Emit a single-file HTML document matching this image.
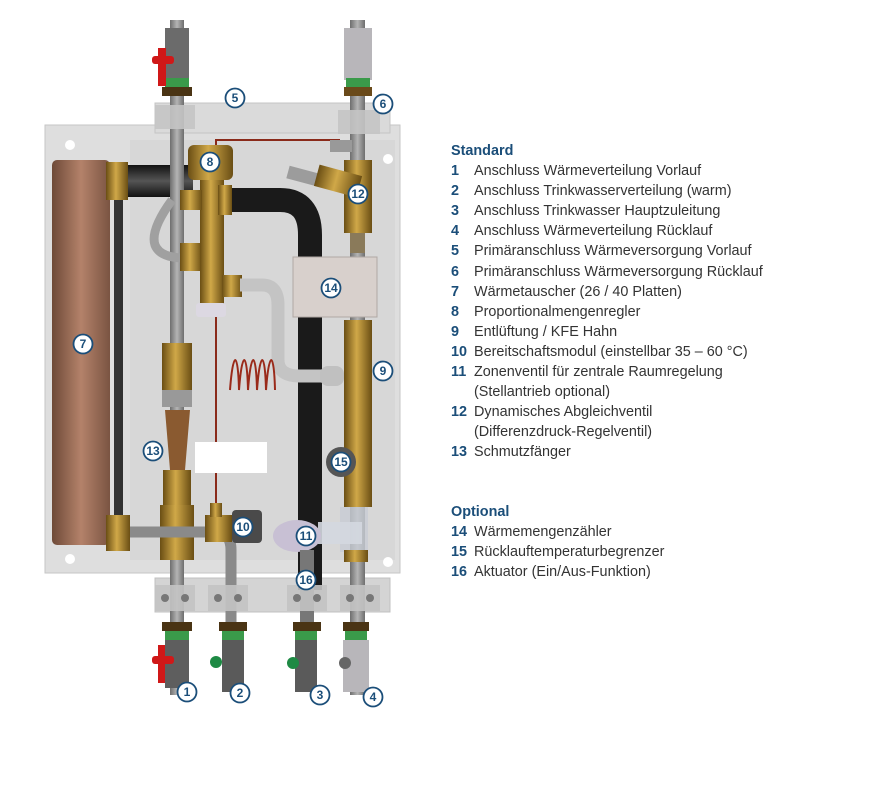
<!DOCTYPE html>
<html><head><meta charset="utf-8"><style>
html,body{margin:0;padding:0;background:#fff;width:872px;height:794px;overflow:hidden}
svg{position:absolute;left:0;top:0}
.lg{position:absolute;left:451px;font-family:"Liberation Sans",sans-serif;font-size:14.4px;color:#333;white-space:nowrap;line-height:20.1px}
.lg b{color:#1b4e79;display:inline-block;width:23px}
.h{font-weight:bold;color:#1b4e79}
</style></head><body>
<svg width="440" height="794" viewBox="0 0 440 794">
<defs>
<linearGradient id="hx" x1="0" x2="1"><stop offset="0" stop-color="#6e4a38"/><stop offset=".5" stop-color="#b4826a"/><stop offset="1" stop-color="#7a5442"/></linearGradient>
<linearGradient id="br" x1="0" x2="1"><stop offset="0" stop-color="#6a4e14"/><stop offset=".45" stop-color="#d0a848"/><stop offset="1" stop-color="#6a4e14"/></linearGradient>
<linearGradient id="pg" x1="0" x2="1"><stop offset="0" stop-color="#6e6e6e"/><stop offset=".5" stop-color="#b4b4b4"/><stop offset="1" stop-color="#6e6e6e"/></linearGradient>
<linearGradient id="bk" x1="0" x2="0" y1="0" y2="1"><stop offset="0" stop-color="#111"/><stop offset=".5" stop-color="#555"/><stop offset="1" stop-color="#111"/></linearGradient>
</defs>
<!-- panels -->
<rect x="45" y="125" width="355" height="448" fill="#dedede" stroke="#c6c6c6"/>
<rect x="155" y="103" width="235" height="30" fill="#dadada" stroke="#c4c4c4"/>
<rect x="130" y="140" width="265" height="420" fill="#cfcfcf" opacity=".45"/>
<rect x="155" y="578" width="235" height="34" fill="#d4d4d4" stroke="#c0c0c0"/>
<g fill="#fff"><circle cx="70" cy="145" r="5"/><circle cx="388" cy="159" r="5"/><circle cx="70" cy="559" r="5"/><circle cx="388" cy="562" r="5"/></g>
<!-- heat exchanger -->
<rect x="52" y="160" width="58" height="385" rx="5" fill="url(#hx)"/>
<rect x="114" y="185" width="9" height="340" fill="#333"/>
<!-- top black pipe -->
<rect x="108" y="165" width="85" height="32" fill="url(#bk)"/>
<rect x="106" y="162" width="22" height="38" fill="url(#br)"/>
<!-- black bend -->
<path d="M222 200 H280 Q310 200 310 235 V590" fill="none" stroke="#1a1a1a" stroke-width="24"/>
<!-- pipe 1 -->
<rect x="170" y="20" width="14" height="675" fill="url(#pg)"/>
<path d="M172 200 Q150 230 155 245 Q160 258 185 258" fill="none" stroke="#a0a0a0" stroke-width="9"/>
<rect x="165" y="28" width="24" height="52" fill="#6b6b6b"/><rect x="165" y="78" width="24" height="9" fill="#3a9a4a"/>
<rect x="162" y="87" width="30" height="9" fill="#4a3414"/>
<rect x="158" y="48" width="8" height="38" fill="#d01818"/><rect x="152" y="56" width="22" height="8" rx="3" fill="#d01818"/>
<rect x="180" y="243" width="22" height="28" fill="url(#br)"/>
<rect x="162" y="343" width="30" height="47" fill="url(#br)"/>
<rect x="162" y="390" width="30" height="17" fill="#999"/>
<path d="M165 410 L190 410 L185 470 L170 470 Z" fill="#8a5a30"/>
<rect x="163" y="470" width="28" height="35" fill="url(#br)"/>
<rect x="160" y="505" width="34" height="55" fill="url(#br)"/>
<rect x="162" y="622" width="30" height="9" fill="#4a3414"/>
<rect x="165" y="631" width="24" height="9" fill="#3a9a4a"/>
<rect x="165" y="640" width="24" height="48" fill="#5e5e5e"/>
<rect x="158" y="645" width="7" height="38" fill="#d01818"/><rect x="152" y="656" width="22" height="8" rx="3" fill="#d01818"/>
<!-- valve 8 -->
<rect x="200" y="175" width="24" height="130" fill="url(#br)"/>
<rect x="188" y="145" width="45" height="35" rx="6" fill="url(#br)"/>
<rect x="180" y="190" width="22" height="20" fill="url(#br)"/>
<rect x="218" y="185" width="14" height="30" fill="url(#br)"/>
<rect x="196" y="303" width="30" height="14" rx="3" fill="#dcd8e2"/>
<line x1="216" y1="317" x2="216" y2="505" stroke="#8a2a1a" stroke-width="2"/>
<path d="M216 145 V140 H340" fill="none" stroke="#8a2a1a" stroke-width="2"/>
<!-- gray bent pipe -->
<rect x="222" y="275" width="20" height="22" fill="url(#br)"/>
<path d="M240 285 H262 Q278 285 278 305 V360 Q278 376 300 376 H330" fill="none" stroke="#c4c4c4" stroke-width="13"/>
<!-- coil -->
<path d="M230 390 c3 -40 8 -40 9 0 c3 -40 8 -40 9 0 c3 -40 8 -40 9 0 c3 -40 8 -40 9 0 c3 -40 8 -40 9 0" fill="none" stroke="#9a2a1a" stroke-width="2"/>
<rect x="195" y="442" width="72" height="31" fill="#fff"/>
<!-- pipe 4 -->
<rect x="350" y="20" width="15" height="675" fill="url(#pg)"/>
<rect x="344" y="28" width="28" height="52" fill="#b8b6ba"/><rect x="346" y="78" width="24" height="9" fill="#3a9a4a"/>
<rect x="344" y="87" width="28" height="9" fill="#6a4a1a"/>
<rect x="330" y="140" width="22" height="12" fill="#999"/>
<rect x="344" y="160" width="28" height="73" fill="url(#br)"/>
<path d="M288 172 L318 180" stroke="#9c9c9c" stroke-width="13"/>
<rect x="316" y="170" width="44" height="22" fill="url(#br)" transform="rotate(15 338 181)"/>
<rect x="350" y="233" width="15" height="20" fill="#8a7a5a"/>
<rect x="344" y="320" width="28" height="187" fill="url(#br)"/>
<rect x="340" y="507" width="28" height="45" fill="#c8ccd4" opacity=".8"/>
<rect x="344" y="550" width="24" height="12" fill="url(#br)"/>
<rect x="343" y="622" width="26" height="9" fill="#4a3414"/>
<rect x="345" y="631" width="22" height="9" fill="#3a9a4a"/>
<rect x="343" y="640" width="26" height="52" fill="#b8b6ba"/>
<circle cx="345" cy="663" r="6" fill="#666"/>
<!-- box 14 -->
<rect x="293" y="257" width="84" height="60" fill="#d8d0cc" stroke="#b0a8a4"/>
<!-- 9 -->
<rect x="320" y="366" width="24" height="20" rx="8" fill="#c0c0c0"/>
<!-- 15 -->
<circle cx="341" cy="462" r="15" fill="#555"/>
<!-- bottom gray pipe -->
<path d="M120 532 H215 Q231 532 231 550 V690" fill="none" stroke="#8a8a8a" stroke-width="11"/>
<rect x="106" y="515" width="24" height="36" fill="url(#br)"/>
<rect x="205" y="515" width="27" height="27" fill="url(#br)"/>
<rect x="210" y="503" width="12" height="14" fill="url(#br)"/>
<rect x="232" y="510" width="30" height="33" rx="4" fill="#4a4a4a"/>
<!-- 11 -->
<rect x="318" y="522" width="44" height="22" fill="#d4d8e0" opacity=".9"/>
<ellipse cx="297" cy="536" rx="24" ry="16" fill="#c8c0d4"/>
<!-- pipe 2 valve -->
<rect x="219" y="622" width="28" height="9" fill="#4a3414"/>
<rect x="222" y="631" width="22" height="9" fill="#3a9a4a"/>
<rect x="222" y="640" width="22" height="52" fill="#5a5a5a"/>
<circle cx="216" cy="662" r="6" fill="#1e8a44"/>
<!-- pipe 3 -->
<rect x="300" y="550" width="14" height="140" fill="#777"/>
<rect x="293" y="622" width="28" height="9" fill="#4a3414"/>
<rect x="295" y="631" width="22" height="9" fill="#3a9a4a"/>
<rect x="295" y="640" width="22" height="52" fill="#5a5a5a"/>
<circle cx="293" cy="663" r="6" fill="#1e8a44"/>
<!-- clamps -->
<g fill="#c4c4c4" opacity=".9">
<rect x="155" y="105" width="40" height="24"/><rect x="338" y="110" width="42" height="24"/>
<rect x="155" y="585" width="40" height="26"/><rect x="208" y="585" width="40" height="26"/>
<rect x="287" y="585" width="40" height="26"/><rect x="340" y="585" width="40" height="26"/>
</g>
<g fill="#777"><circle cx="165" cy="598" r="4"/><circle cx="185" cy="598" r="4"/><circle cx="218" cy="598" r="4"/><circle cx="238" cy="598" r="4"/><circle cx="297" cy="598" r="4"/><circle cx="317" cy="598" r="4"/><circle cx="350" cy="598" r="4"/><circle cx="370" cy="598" r="4"/></g>
<!-- labels -->
<g font-family="Liberation Sans,sans-serif" font-size="12" font-weight="bold" fill="#1b4e79" text-anchor="middle">
<g fill="#fff" stroke="#1b4e79" stroke-width="1.8">
<circle cx="235" cy="98" r="9.5"/><circle cx="383" cy="104" r="9.5"/><circle cx="210" cy="162" r="9.5"/><circle cx="358" cy="194" r="9.5"/>
<circle cx="331" cy="288" r="9.5"/><circle cx="83" cy="344" r="9.5"/><circle cx="383" cy="371" r="9.5"/><circle cx="153" cy="451" r="9.5"/>
<circle cx="341" cy="462" r="9.5"/><circle cx="243" cy="527" r="9.5"/><circle cx="306" cy="536" r="9.5"/><circle cx="306" cy="580" r="9.5"/>
<circle cx="187" cy="692" r="9.5"/><circle cx="240" cy="693" r="9.5"/><circle cx="320" cy="695" r="9.5"/><circle cx="373" cy="697" r="9.5"/>
</g>
<text x="235" y="102">5</text><text x="383" y="108">6</text><text x="210" y="166">8</text><text x="358" y="198">12</text>
<text x="331" y="292">14</text><text x="83" y="348">7</text><text x="383" y="375">9</text><text x="153" y="455">13</text>
<text x="341" y="466">15</text><text x="243" y="531">10</text><text x="306" y="540">11</text><text x="306" y="584">16</text>
<text x="187" y="696">1</text><text x="240" y="697">2</text><text x="320" y="699">3</text><text x="373" y="701">4</text>
</g>
</svg>
<div class="lg" style="top:141px">
<div class="h">Standard</div>
<div><b>1</b>Anschluss Wärmeverteilung Vorlauf</div>
<div><b>2</b>Anschluss Trinkwasserverteilung (warm)</div>
<div><b>3</b>Anschluss Trinkwasser Hauptzuleitung</div>
<div><b>4</b>Anschluss Wärmeverteilung Rücklauf</div>
<div><b>5</b>Primäranschluss Wärmeversorgung Vorlauf</div>
<div><b>6</b>Primäranschluss Wärmeversorgung Rücklauf</div>
<div><b>7</b>Wärmetauscher (26 / 40 Platten)</div>
<div><b>8</b>Proportionalmengenregler</div>
<div><b>9</b>Entlüftung / KFE Hahn</div>
<div><b>10</b>Bereitschaftsmodul (einstellbar 35 – 60 °C)</div>
<div><b>11</b>Zonenventil für zentrale Raumregelung</div>
<div><b></b>(Stellantrieb optional)</div>
<div><b>12</b>Dynamisches Abgleichventil</div>
<div><b></b>(Differenzdruck-Regelventil)</div>
<div><b>13</b>Schmutzfänger</div>
</div>
<div class="lg" style="top:502px">
<div class="h">Optional</div>
<div><b>14</b>Wärmemengenzähler</div>
<div><b>15</b>Rücklauftemperaturbegrenzer</div>
<div><b>16</b>Aktuator (Ein/Aus-Funktion)</div>
</div>
</body></html>
